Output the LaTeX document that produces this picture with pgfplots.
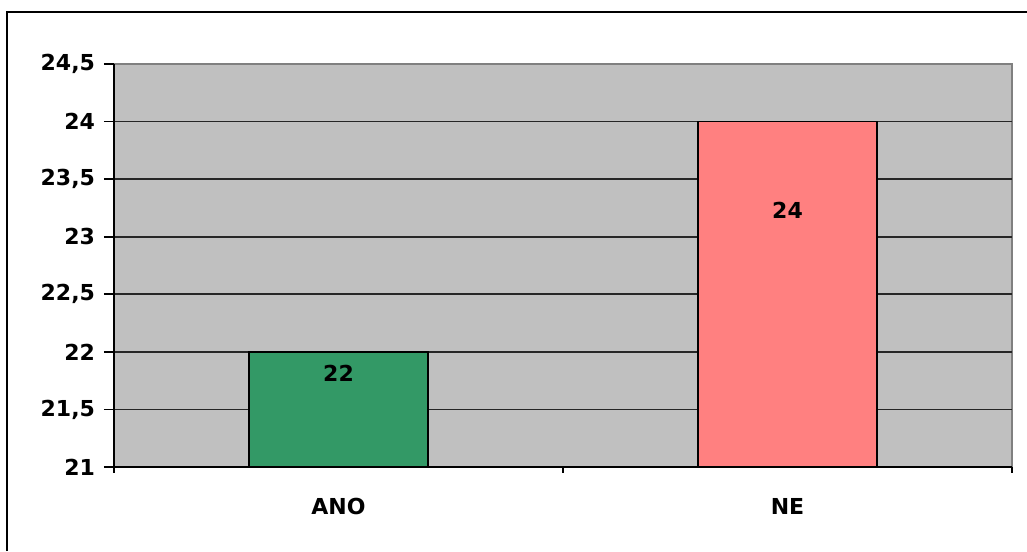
\documentclass[border=0pt]{standalone}
\usepackage{pgfplots}
\pgfplotsset{compat=1.18}
\usepackage{fontspec}
\setmainfont{DejaVu Sans}
\definecolor{bgray}{HTML}{C0C0C0}
\definecolor{bgreen}{HTML}{339966}
\definecolor{bpink}{HTML}{FF8080}
\definecolor{bord}{HTML}{808080}
\begin{document}
\begin{tikzpicture}[x=0.5pt,y=0.5pt]
\useasboundingbox (0,0) rectangle (1027,551);
\draw[line width=1pt,black] (7,0) -- (7,539) -- (1027,539);
\begin{axis}[
  at={(57pt,42pt)}, anchor=south west,
  scale only axis, width=449pt, height=201.5pt,
  xmin=-0.5, xmax=1.5, ymin=21, ymax=24.5,
  ytick={21,21.5,...,24},
  extra y ticks={24.5}, extra y tick style={grid=none},
  xtick={0,1}, xticklabels={ANO,NE},
  minor xtick={-0.5,0.5,1.5},
  axis background/.style={fill=bgray, draw=bord, line width=0.9pt},
  axis x line*=bottom, axis y line*=left,
  axis line style={black, line width=1pt, -},
  ymajorgrids, major grid style={line width=0.9pt, color=black!85},
  tick align=outside,
  major tick length=5pt, minor tick length=3pt,
  every tick/.style={black, line width=0.9pt},
  x tick style={draw=none},
  every minor tick/.style={black, line width=0.9pt},
  minor x tick style={draw=black},
  /pgf/number format/use comma,
  /pgf/number format/assume math mode=true,
  tick label style={font=\fontsize{11}{13}\selectfont\bfseries},
  xticklabel style={yshift=-7pt},
  yticklabel style={xshift=-1pt},
  ybar, bar width=0.4, bar shift=0pt,
  clip=false,
]
\addplot[fill=bgreen, draw=black, line width=0.9pt] coordinates {(0,22)};
\addplot[fill=bpink, draw=black, line width=0.9pt] coordinates {(1,24)};
\addplot[draw=none, fill=none, nodes near coords, point meta=explicit symbolic,
  every node near coord/.style={anchor=center, font=\fontsize{11}{13}\selectfont\bfseries, black}]
  coordinates {(0,21.81) [22] (1,23.23) [24]};
\end{axis}
\end{tikzpicture}
\end{document}
